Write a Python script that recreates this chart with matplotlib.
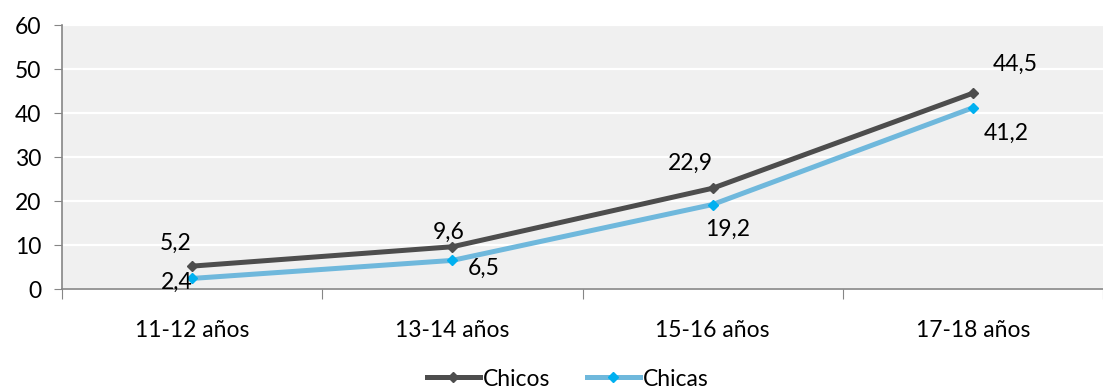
import matplotlib.pyplot as plt

plt.rcParams['font.family'] = ['Lato', 'DejaVu Sans']

categories = ['11-12 años', '13-14 años', '15-16 años', '17-18 años']
chicos = [5.2, 9.6, 22.9, 44.5]
chicas = [2.4, 6.5, 19.2, 41.2]

# desplaçaments de les etiquetes (px)
off_chicos = [(-16, 23), (-4, 14), (-22, 25), (42, 29)]
off_chicas = [(-15, -4), (31, -8), (15, -25), (33, -26)]

FS = 16.5

fig = plt.figure(figsize=(11.03, 3.92), dpi=100)
ax = fig.add_axes([62/1103, 103/392, 1041/1103, 264/392])
ax.set_facecolor('#f0f0f0')

x = list(range(len(categories)))
ax.plot(x, chicos, color='#4d4d4d', lw=3.6, marker='D', ms=5, mfc='#4d4d4d', mec='#4d4d4d', label='Chicos', zorder=3)
ax.plot(x, chicas, color='#6fb8dc', lw=3.6, marker='D', ms=5, mfc='#00b0f0', mec='#00b0f0', label='Chicas', zorder=3)

for xi, v, off in zip(x, chicos, off_chicos):
    ax.annotate(f'{v:.1f}'.replace('.', ','), (xi, v), xytext=off, textcoords='offset pixels',
                ha='center', va='center', fontsize=FS)
for xi, v, off in zip(x, chicas, off_chicas):
    ax.annotate(f'{v:.1f}'.replace('.', ','), (xi, v), xytext=off, textcoords='offset pixels',
                ha='center', va='center', fontsize=FS)

ax.set_ylim(0, 60)
ax.set_yticks(range(0, 61, 10))
ax.set_xlim(-0.5, 3.443)
ax.set_xticks([i + 0.5 for i in range(-1, 4)], minor=False)
ax.set_xticklabels([])
ax.set_xticks(x, minor=True)
ax.set_xticklabels(categories, minor=True)
ax.tick_params(axis='x', which='minor', length=0, pad=22, labelsize=FS)
ax.tick_params(axis='x', which='major', length=7, color='#868686')
ax.tick_params(axis='y', length=6, color='#868686', labelsize=FS, pad=9)
ax.grid(axis='y', color='white', lw=1.6)
ax.set_axisbelow(True)

for s in ['top', 'right']:
    ax.spines[s].set_visible(False)
for s in ['left', 'bottom']:
    ax.spines[s].set_color('#868686')
    ax.spines[s].set_linewidth(1.2)

fig.legend(loc='center', bbox_to_anchor=(568/1103, 1 - 379/392), ncol=2, frameon=False,
           fontsize=FS, handlelength=2.3, handletextpad=0.15, columnspacing=1.6)

fig.savefig('out.png', dpi=100)
